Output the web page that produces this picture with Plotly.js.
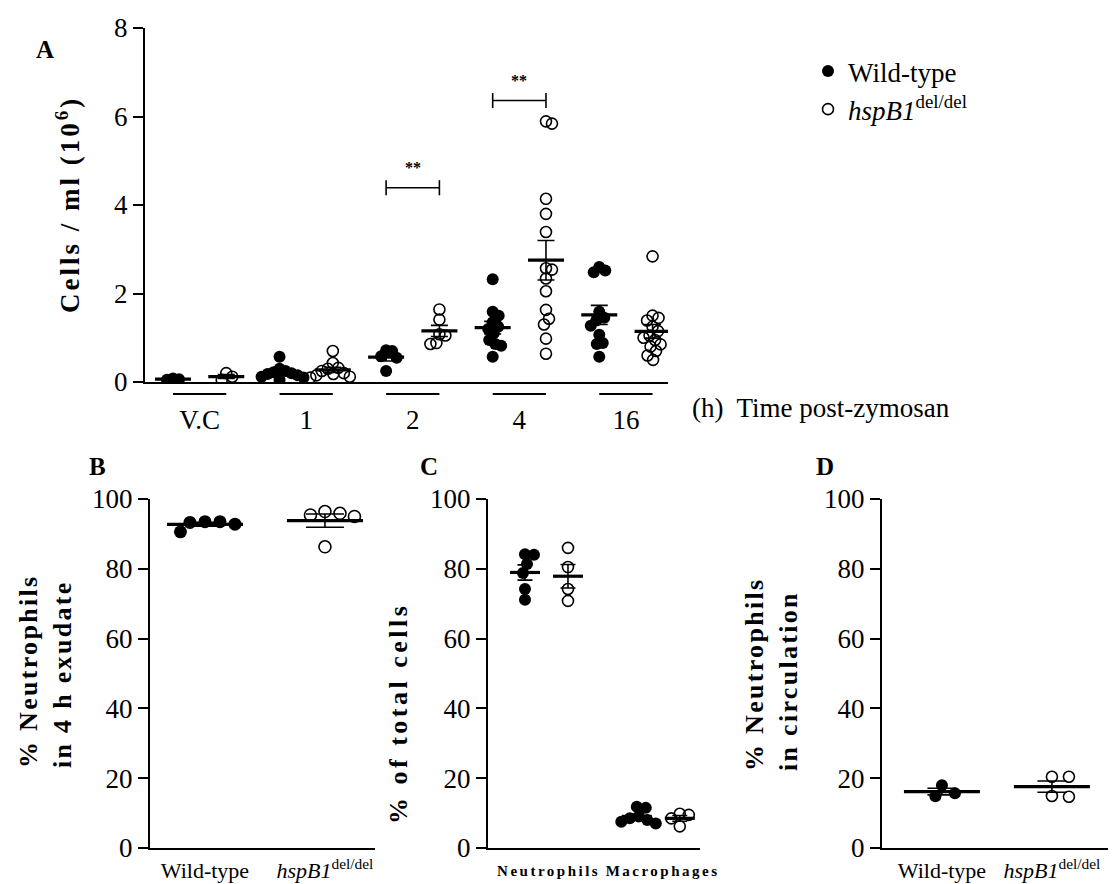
<!DOCTYPE html>
<html>
<head>
<meta charset="utf-8">
<script src="https://cdn.plot.ly/plotly-3.0.1.min.js"></script>
<style>
html,body{margin:0;padding:0;background:#fff;}
#chart{width:1113px;height:884px;}
</style>
</head>
<body>
<div id="chart"></div>
<script>
// ---------------- DATA ----------------
const timeLabels = ['V.C', '1', '2', '4', '16'];
const wtVC = [0.08, 0.05, 0.06];
const koVC = [0.20, 0.05, 0.12];
const wt1h = [0.57, 0.30, 0.25, 0.20, 0.18, 0.15, 0.10, 0.12, 0.22, 0.05];
const ko1h = [0.70, 0.43, 0.30, 0.32, 0.25, 0.20, 0.15, 0.12, 0.10, 0.18];
const wt2h = [0.72, 0.70, 0.55, 0.58, 0.25];
const ko2h = [1.64, 1.41, 1.05, 1.08, 0.86, 0.88];
const wt4h = [2.32, 1.59, 1.50, 1.35, 1.25, 1.20, 1.10, 0.95, 0.86, 0.82, 0.57];
const ko4h = [5.84, 5.89, 4.14, 3.80, 3.39, 2.57, 2.54, 2.34, 2.05, 1.63, 1.43, 1.30, 0.98, 0.64];
const wt16h = [2.52, 2.48, 2.60, 1.59, 1.45, 1.39, 1.27, 1.07, 0.86, 0.88, 0.57];
const ko16h = [2.84, 1.50, 1.45, 1.39, 1.25, 1.15, 1.05, 1.00, 0.95, 0.85, 0.80, 0.70, 0.50, 0.60];

const genotypeLabels = ['Wild-type', '<i>hspB1</i><sup>del/del</sup>'];
const wtExudate = [93.5, 93.3, 90.6, 92.8, 93.5];
const koExudate = [96.4, 95.4, 95.0, 95.9, 86.3];

const cellTypeLabels = ['<b>Neutrophils</b>', '<b>Macrophages</b>'];
const wtNeut = [84.2, 84.0, 81.4, 78.8, 74.2, 71.1];
const koNeut = [86.0, 80.5, 74.2, 70.8];
const wtMac = [11.8, 11.5, 9.0, 8.0, 7.5, 7.0, 8.5];
const koMac = [9.8, 9.5, 8.5, 6.2];

const wtCirc = [18.0, 14.8, 15.7];
const koCirc = [20.4, 20.4, 14.7, 14.9];

// ---------------- LAYOUT CONSTANTS ----------------
const W = 1113, H = 884;
const FONT = 'Liberation Serif, Times New Roman, serif';
const panels = {
  A: {xa: 'x',  ya: 'y',  xpx: [145, 668], ypx: [28, 382],  xr: [-0.525, 9.29], yr: [0, 8],   diam: 12, hw: 18, cap: 8.5, cx: 6,  cy: 10},
  B: {xa: 'x2', ya: 'y2', xpx: [150, 375], ypx: [499, 848], xr: [-0.458, 1.417], yr: [0, 100], diam: 13, hw: 38, cap: 19,  cx: 15, cy: 12},
  C: {xa: 'x3', ya: 'y3', xpx: [488, 700], ypx: [499, 848], xr: [-0.86, 4.07],  yr: [0, 100], diam: 12, hw: 15, cap: 7.5, cx: 9,  cy: 10},
  D: {xa: 'x4', ya: 'y4', xpx: [882, 1108], ypx: [499, 848], xr: [-0.545, 1.51], yr: [0, 100], diam: 12, hw: 38, cap: 14.5, cx: 17, cy: 12}
};
function scale(p) {
  return {
    px: (p.xpx[1] - p.xpx[0]) / (p.xr[1] - p.xr[0]),
    py: (p.ypx[1] - p.ypx[0]) / (p.yr[1] - p.yr[0])
  };
}
// deterministic beeswarm offsets (data-x units), elliptical collision
function swarm(vals, p) {
  const s = scale(p);
  const order = vals.map((v, i) => i).sort((a, b) => vals[b] - vals[a]);
  const placed = [];
  const offs = new Array(vals.length).fill(0);
  order.forEach(i => {
    const py = vals[i] * s.py;
    let chosen = 0;
    for (let k = 0; k < 400; k++) {
      const cand = (k % 2 === 1 ? 1 : -1) * Math.ceil(k / 2) * 0.5;
      const ok = placed.every(q => {
        const dx = (q.x - cand) / p.cx, dy = (q.y - py) / p.cy;
        return dx * dx + dy * dy >= 1;
      });
      if (ok) { chosen = cand; break; }
    }
    placed.push({x: chosen, y: py});
    offs[i] = chosen / s.px;
  });
  return offs;
}
function stats(vals) {
  const n = vals.length;
  const m = vals.reduce((a, b) => a + b, 0) / n;
  const sd = Math.sqrt(vals.reduce((a, b) => a + (b - m) * (b - m), 0) / (n - 1));
  return {mean: m, sem: sd / Math.sqrt(n)};
}

const traces = [];
let legendWT = true, legendKO = true;
function addGroup(vals, pos, pk, filled) {
  const p = panels[pk];
  const s = scale(p);
  const offs = swarm(vals, p);
  const t = {
    x: vals.map((v, i) => pos + offs[i]), y: vals,
    xaxis: p.xa, yaxis: p.ya, type: 'scatter', mode: 'markers', hoverinfo: 'y',
    marker: filled
      ? {symbol: 'circle', size: p.diam, color: 'black', line: {width: 0}}
      : {symbol: 'circle-open', size: p.diam - 1, color: 'black', line: {width: 1.6, color: 'black'}},
    showlegend: false
  };
  if (filled && legendWT) { t.showlegend = true; t.name = 'Wild-type'; legendWT = false; t.legendrank = 1; }
  if (!filled && legendKO) { t.showlegend = true; t.name = '<i>hspB1</i><sup>del/del</sup>'; legendKO = false; t.legendrank = 2; }
  traces.push(t);
  const st = stats(vals);
  traces.push({
    x: [pos], y: [st.mean], xaxis: p.xa, yaxis: p.ya, type: 'scatter', mode: 'markers',
    marker: {size: 1, color: 'rgba(0,0,0,0)'}, hoverinfo: 'skip', showlegend: false,
    error_y: {type: 'data', array: [st.sem], visible: true, color: 'black', thickness: 1.6, width: p.cap}
  });
  traces.push({
    x: [pos - p.hw / s.px, pos + p.hw / s.px], y: [st.mean, st.mean],
    xaxis: p.xa, yaxis: p.ya, type: 'scatter', mode: 'lines',
    line: {color: 'black', width: 3.2}, hoverinfo: 'skip', showlegend: false
  });
}

// Panel A groups
const wtA = [wtVC, wt1h, wt2h, wt4h, wt16h];
const koA = [koVC, ko1h, ko2h, ko4h, ko16h];
const wtPosA = [0, 2, 4, 6, 8];
const koPosA = [1, 3, 5, 7, 9];
wtA.forEach((v, i) => addGroup(v, wtPosA[i], 'A', true));
koA.forEach((v, i) => addGroup(v, koPosA[i], 'A', false));
// Panel B
addGroup(wtExudate, 0, 'B', true);
addGroup(koExudate, 1, 'B', false);
// Panel C
addGroup(wtNeut, 0, 'C', true);
addGroup(koNeut, 1, 'C', false);
addGroup(wtMac, 2.6, 'C', true);
addGroup(koMac, 3.6, 'C', false);
// Panel D
addGroup(wtCirc, 0, 'D', true);
addGroup(koCirc, 1, 'D', false);

// ---------------- AXES ----------------
function dom(p) {
  return {x: [p.xpx[0] / W, p.xpx[1] / W], y: [1 - p.ypx[1] / H, 1 - p.ypx[0] / H]};
}
const tf = (sz) => ({family: FONT, size: sz, color: 'black'});
function yAxis(p, dtick, anchor) {
  const d = dom(p);
  return {domain: d.y, range: p.yr, dtick: dtick, tick0: 0, anchor: anchor,
    showline: true, linecolor: 'black', linewidth: 2, ticks: 'outside', ticklen: 10, tickwidth: 2,
    tickcolor: 'black', showgrid: false, zeroline: false, tickfont: tf(27), fixedrange: true};
}
function xAxis(p, vals, text, fontSize, tl, anchor) {
  const d = dom(p);
  return {domain: d.x, range: p.xr, anchor: anchor, tickmode: 'array', tickvals: vals, ticktext: text,
    showline: true, linecolor: 'black', linewidth: 2, ticks: 'outside', ticklen: tl, tickcolor: 'rgba(0,0,0,0)',
    showgrid: false, zeroline: false, tickfont: tf(fontSize), fixedrange: true};
}
const midA = wtPosA.map((w, i) => (w + koPosA[i]) / 2);

// brackets & underlines
const shapes = [];
wtPosA.forEach((w, i) => {
  shapes.push({type: 'line', xref: 'x', yref: 'paper', x0: w, x1: koPosA[i],
    y0: 1 - 394 / H, y1: 1 - 394 / H, line: {color: 'black', width: 2}});
});
const sigGroups = [2, 3];
const sigY = [4.39, 6.36];
sigGroups.forEach((g, j) => {
  const x0 = wtPosA[g], x1 = koPosA[g], y = sigY[j];
  shapes.push({type: 'line', xref: 'x', yref: 'y', x0: x0, x1: x1, y0: y, y1: y, line: {color: 'black', width: 1.6}});
  shapes.push({type: 'line', xref: 'x', yref: 'y', x0: x0, x1: x0, y0: y - 0.17, y1: y + 0.17, line: {color: 'black', width: 1.6}});
  shapes.push({type: 'line', xref: 'x', yref: 'y', x0: x1, x1: x1, y0: y - 0.17, y1: y + 0.17, line: {color: 'black', width: 1.6}});
});

const ann = [];
function pAnn(text, x, y, opts) {
  ann.push(Object.assign({text: text, xref: 'paper', yref: 'paper', x: x / W, y: 1 - y / H,
    showarrow: false, xanchor: 'center', yanchor: 'middle', font: tf(26)}, opts || {}));
}
pAnn('<b>A</b>', 45, 49, {font: tf(25)});
pAnn('<b>B</b>', 97, 466, {font: tf(25)});
pAnn('<b>C</b>', 429, 466, {font: tf(25)});
pAnn('<b>D</b>', 825, 466, {font: tf(25)});
pAnn('<b>Cells / ml (10<sup>6</sup>)</b>', 68, 205, {textangle: -90, font: tf(27)});
pAnn('<b>% Neutrophils<br>in 4 h exudate</b>', 45, 686, {textangle: -90, align: 'left', font: tf(26)});
pAnn('<b>% of total cells</b>', 398, 714, {textangle: -90, font: tf(26)});
pAnn('<b>% Neutrophils<br>in circulation</b>', 771, 689, {textangle: -90, align: 'left', font: tf(26)});
pAnn('(h)\u00a0 Time post-zymosan', 690, 408, {xanchor: 'left', font: tf(27)});
sigGroups.forEach((g, j) => {
  ann.push({text: '<b>**</b>', xref: 'x', yref: 'y', x: midA[g], y: sigY[j] + 0.46,
    showarrow: false, font: tf(16), xanchor: 'center', yanchor: 'middle'});
});

const layout = {
  width: W, height: H, margin: {l: 0, r: 0, t: 0, b: 0},
  paper_bgcolor: 'white', plot_bgcolor: 'rgba(0,0,0,0)',
  font: tf(27),
  xaxis: xAxis(panels.A, midA, timeLabels, 27, 13, 'y'),
  yaxis: yAxis(panels.A, 2, 'x'),
  xaxis2: xAxis(panels.B, [0, 1], genotypeLabels, 22, 2, 'y2'),
  yaxis2: yAxis(panels.B, 20, 'x2'),
  xaxis3: xAxis(panels.C, [0.55, 3.2], cellTypeLabels, 15, 8, 'y3'),
  yaxis3: yAxis(panels.C, 20, 'x3'),
  xaxis4: xAxis(panels.D, [0, 1], genotypeLabels, 22, 2, 'y4'),
  yaxis4: yAxis(panels.D, 20, 'x4'),
  shapes: shapes,
  annotations: ann,
  showlegend: true,
  legend: {x: 808 / W, y: 1 - 47 / H, xanchor: 'left', yanchor: 'top', font: tf(27),
    bgcolor: 'rgba(0,0,0,0)', borderwidth: 0, tracegroupgap: 0, itemclick: false, itemdoubleclick: false},
  hovermode: 'closest'
};

Plotly.newPlot('chart', traces, layout, {displayModeBar: false, staticPlot: false}).then(() => {
  document.querySelectorAll('.x3tick text').forEach(t => { t.style.letterSpacing = '2.5px'; });
  const spacing = {4: '3px', 5: '2.3px', 6: '3.5px', 7: '2.3px'};
  Object.keys(spacing).forEach(i => {
    const el = document.querySelector('.annotation[data-index="' + i + '"] .annotation-text');
    if (el) el.style.letterSpacing = spacing[i];
  });
});
</script>
</body>
</html>
